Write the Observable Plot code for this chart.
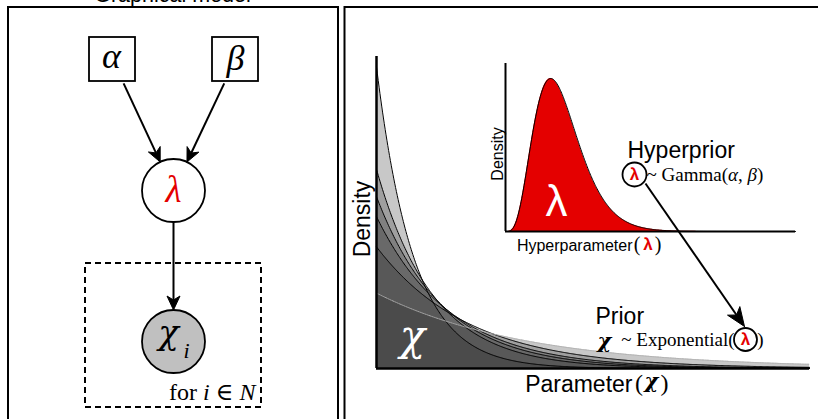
<!DOCTYPE html>
<html><head><meta charset="utf-8">
<script src="https://cdn.jsdelivr.net/npm/d3@7"></script>
<script src="https://cdn.jsdelivr.net/npm/@observablehq/plot@0.6"></script>
<style>
body{margin:0;background:#fff}
#wrap{position:relative;width:818px;height:419px;overflow:hidden;background:#fff}
#wrap svg{position:absolute}
</style></head><body><div id="wrap"></div>
<script>
// ---- data ----
const priorRates = [1.16, 0.766, 0.661, 0.584, 0.468, 0.29];   // exponential rates of the prior curves
const hyperShape = 5;                                         // gamma hyperprior shape
const hyperScale = 0.39;                                      // gamma hyperprior scale
const nodeNames = ["alpha", "beta", "lambda", "chi"];
const nodeSymbols = ["α", "β", "λ", "χ"];
const edgeList = [["alpha", "lambda"], ["beta", "lambda"], ["lambda", "chi"]];
const panelTitles = ["Graphical model"];
const axisLabels = ["Density", "Parameter", "Density", "Hyperparameter"];
const annotationTexts = ["Prior", "Hyperprior", "~ Exponential(", "~ Gamma(α, β)", "for i ∈ N"];

// ---- layout (diagram positions, in page pixels) ----
const layout = {
  alpha: {x: 112, y: 59, shape: "box", half: 23, halfY: 22},
  beta: {x: 235, y: 59, shape: "box", half: 23, halfY: 22},
  lambda: {x: 173, y: 190, shape: "circle", r: 31.5},
  chi: {x: 173, y: 341, shape: "circle", r: 31.5}
};

const wrap = document.getElementById("wrap");
const serif = "Liberation Serif, DejaVu Serif, serif";
const greek = "DejaVu Serif, serif";
const sans = "Liberation Sans, Arial, sans-serif";
const red = "#e40000";

// ---- prior (exponential) panel ----
const minRate = d3.min(priorRates);
const xs = d3.range(0, 10.0001, 0.02);
const priorData = priorRates.flatMap(rate => xs.map(x => ({rate, x, d: rate * Math.exp(-rate * x)})));
const priorPlot = Plot.plot({
  width: 453, height: 332, marginLeft: 10, marginRight: 10, marginTop: 10, marginBottom: 10,
  x: {domain: [0, 10], axis: null}, y: {domain: [0, 1.2], axis: null},
  style: {background: "transparent"},
  marks: [
    Plot.area(priorData, {x1: "x", y1: () => 0, y2: "d", z: "rate", fill: "#282828", fillOpacity: 0.256}),
    Plot.line(priorData.filter(d => d.rate !== minRate), {x: "x", y: "d", z: "rate", stroke: "black", strokeWidth: 1}),
    Plot.line(priorData.filter(d => d.rate === minRate), {x: "x", y: "d", stroke: "#b0b0b0", strokeWidth: 1, strokeDasharray: "1.5,1"}),
    Plot.ruleX([0], {stroke: "black", strokeWidth: 2.5}),
    Plot.ruleY([0], {stroke: "black", strokeWidth: 2.5})
  ]
});
priorPlot.style.left = "366px"; priorPlot.style.top = "46px";
wrap.appendChild(priorPlot);

// ---- hyperprior (gamma) inset ----
const gammaConst = d3.range(1, hyperShape).reduce((a, b) => a * b, 1) * Math.pow(hyperScale, hyperShape);
const hyperData = xs.map(x => ({x, d: Math.pow(x, hyperShape - 1) * Math.exp(-x / hyperScale) / gammaConst}));
const hyperPlot = Plot.plot({
  width: 310, height: 188, marginLeft: 10, marginRight: 10, marginTop: 10, marginBottom: 10,
  x: {domain: [0, 10], axis: null}, y: {domain: [0, 0.55], axis: null},
  style: {background: "transparent"},
  marks: [
    Plot.area(hyperData, {x1: "x", y1: () => 0, y2: "d", fill: red}),
    Plot.line(hyperData, {x: "x", y: "d", stroke: "black", strokeWidth: 1}),
    Plot.ruleX([0], {stroke: "black", strokeWidth: 2}),
    Plot.ruleY([0], {stroke: "black", strokeWidth: 2})
  ]
});
hyperPlot.style.left = "495px"; hyperPlot.style.top = "53px";
wrap.appendChild(hyperPlot);

// ---- diagram geometry ----
function edgePoint(n, toward) {
  const dx = toward.x - n.x, dy = toward.y - n.y, len = Math.hypot(dx, dy);
  if (n.shape === "circle") return {x: n.x + dx / len * n.r, y: n.y + dy / len * n.r};
  const t = Math.min(n.half / Math.abs(dx || 1e-9), n.halfY / Math.abs(dy || 1e-9)) + 2 / len;
  return {x: n.x + dx * t, y: n.y + dy * t};
}
function arrow(id, from, tip, L, W, notch) {
  const len = Math.hypot(tip.x - from.x, tip.y - from.y);
  const ux = (tip.x - from.x) / len, uy = (tip.y - from.y) / len, nx = -uy, ny = ux;
  const base = {x: tip.x - (L - notch) * ux, y: tip.y - (L - notch) * uy};
  return {
    link: {id, x1: from.x, y1: from.y, x2: base.x, y2: base.y},
    head: [tip, {x: tip.x - L * ux + W * nx, y: tip.y - L * uy + W * ny}, base,
           {x: tip.x - L * ux - W * nx, y: tip.y - L * uy - W * ny}, tip].map(p => ({id, x: p.x, y: p.y}))
  };
}
const arrows = edgeList.map(([a, b], i) => {
  const A = layout[a], B = layout[b];
  return arrow("e" + i, edgePoint(A, B), edgePoint(B, A), 14, 6.5, 4);
});
arrows.push(arrow("big", {x: 645, y: 183}, {x: 744, y: 326}, 19, 7.5, 5));
const links = arrows.map(a => a.link);
const heads = arrows.flatMap(a => a.head);

const boxes = nodeNames.filter(n => layout[n].shape === "box").map(n => ({
  x1: layout[n].x - layout[n].half, x2: layout[n].x + layout[n].half,
  y1: layout[n].y - layout[n].halfY, y2: layout[n].y + layout[n].halfY}));

const T = (data, o) => Plot.text(data, {text: d => d.t, x: d => d.x, y: d => d.y, ...o});

const overlay = Plot.plot({
  width: 818, height: 419, margin: 0,
  x: {domain: [0, 818], range: [0, 818], axis: null},
  y: {domain: [0, 419], range: [0, 419], axis: null},
  style: {background: "transparent"},
  marks: [
    // panel frames
    Plot.rect([{x1: 8, x2: 338, y1: 7, y2: 440}, {x1: 344.5, x2: 840, y1: 7, y2: 440}],
      {x1: "x1", x2: "x2", y1: "y1", y2: "y2", fill: "none", stroke: "black", strokeWidth: 2}),
    T([{t: panelTitles[0], x: 172, y: -4.9}], {fontFamily: sans, fontSize: 21.5}),
    // plate
    Plot.rect([{x1: 85, x2: 261, y1: 263, y2: 407}],
      {x1: "x1", x2: "x2", y1: "y1", y2: "y2", fill: "none", stroke: "black", strokeWidth: 2, strokeDasharray: "6,4"}),
    T([{t: annotationTexts[4], x: 255, y: 392}], {fontFamily: serif, fontSize: 24, textAnchor: "end"}),
    // nodes
    Plot.rect(boxes, {x1: "x1", x2: "x2", y1: "y1", y2: "y2", fill: "white", stroke: "black", strokeWidth: 1.8}),
    Plot.dot([layout.lambda], {x: "x", y: "y", r: 31.5, fill: "white", stroke: "black", strokeWidth: 1.8}),
    Plot.dot([layout.chi], {x: "x", y: "y", r: 31.5, fill: "#c0c0c0", stroke: "black", strokeWidth: 1.8}),
    T([{t: nodeSymbols[0], x: 111, y: 55.5}, {t: nodeSymbols[1], x: 235, y: 58}],
      {fontFamily: serif, fontStyle: "italic", fontSize: 36}),
    T([{t: nodeSymbols[2], x: 173, y: 190}], {fontFamily: serif, fontStyle: "italic", fontSize: 37, fill: red}),
    T([{t: nodeSymbols[3], x: 168, y: 333}], {fontFamily: greek, fontStyle: "italic", fontSize: 34}),
    T([{t: "i", x: 186, y: 350}], {fontFamily: serif, fontStyle: "italic", fontSize: 22}),
    // arrows
    Plot.link(links, {x1: "x1", y1: "y1", x2: "x2", y2: "y2", stroke: "black", strokeWidth: 2}),
    Plot.line(heads, {x: "x", y: "y", z: "id", fill: "black", stroke: "black", strokeWidth: 1, curve: "linear-closed"}),
    // main axes labels
    T([{t: axisLabels[0], x: 362.6, y: 218.5}], {fontFamily: sans, fontSize: 23, rotate: -90}),
    T([{t: axisLabels[1], x: 632, y: 384.6}], {fontFamily: sans, fontSize: 23, textAnchor: "end"}),
    T([{t: "(", x: 638.5, y: 383}, {t: ")", x: 664, y: 383}], {fontFamily: serif, fontSize: 24}),
    T([{t: nodeSymbols[3], x: 651, y: 381}], {fontFamily: greek, fontWeight: "bold", fontStyle: "italic", fontSize: 21}),
    T([{t: nodeSymbols[3], x: 412, y: 336}], {fontFamily: greek, fontStyle: "italic", fontSize: 42, fill: "white"}),
    // inset labels
    T([{t: axisLabels[2], x: 497, y: 153.5}], {fontFamily: sans, fontSize: 16, rotate: -90}),
    T([{t: axisLabels[3], x: 632, y: 245}], {fontFamily: sans, fontSize: 16, textAnchor: "end"}),
    T([{t: "(", x: 636.5, y: 244}, {t: ")", x: 657.5, y: 244}], {fontFamily: serif, fontSize: 20}),
    T([{t: nodeSymbols[2], x: 647.5, y: 244}], {fontFamily: sans, fontWeight: "bold", fontSize: 17, fill: red}),
    T([{t: nodeSymbols[2], x: 556, y: 201}], {fontFamily: sans, fontSize: 44, fill: "white"}),
    // hyperprior annotation
    T([{t: annotationTexts[1], x: 627, y: 150}], {fontFamily: sans, fontSize: 23, textAnchor: "start"}),
    Plot.dot([{x: 634, y: 174}], {x: "x", y: "y", r: 12, fill: "none", stroke: "black", strokeWidth: 1.8}),
    T([{t: nodeSymbols[2], x: 634, y: 174}], {fontFamily: sans, fontWeight: "bold", fontSize: 17, fill: red}),
    T([{t: annotationTexts[3], x: 646, y: 174}], {fontFamily: serif, fontSize: 19, textAnchor: "start"}),
    // prior annotation
    T([{t: annotationTexts[0], x: 595, y: 316}], {fontFamily: sans, fontSize: 23, textAnchor: "start"}),
    T([{t: nodeSymbols[3], x: 604, y: 341}], {fontFamily: greek, fontWeight: "bold", fontStyle: "italic", fontSize: 21}),
    T([{t: annotationTexts[2], x: 734, y: 339}], {fontFamily: serif, fontSize: 19, textAnchor: "end"}),
    Plot.dot([{x: 745, y: 339}], {x: "x", y: "y", r: 11.5, fill: "none", stroke: "black", strokeWidth: 1.8}),
    T([{t: nodeSymbols[2], x: 745, y: 339}], {fontFamily: sans, fontWeight: "bold", fontSize: 17, fill: red}),
    T([{t: ")", x: 760, y: 339}], {fontFamily: serif, fontSize: 19})
  ]
});
overlay.style.left = "0px"; overlay.style.top = "0px";
wrap.appendChild(overlay);

// italic math letters inside mixed text
const rich = {
  "for i ∈ N": [["for ", 0], ["i", 1], [" ∈ ", 0], ["N", 1]],
  "~ Gamma(α, β)": [["~ Gamma(", 0], ["α", 1], [", ", 0], ["β", 1], [")", 0]]
};
d3.select(overlay).selectAll("text").each(function () {
  const segs = rich[this.textContent];
  if (!segs) return;
  const el = d3.select(this);
  el.text("");
  segs.forEach(([s, it]) => el.append("tspan").attr("font-style", it ? "italic" : "normal").text(s));
});
</script></body></html>
